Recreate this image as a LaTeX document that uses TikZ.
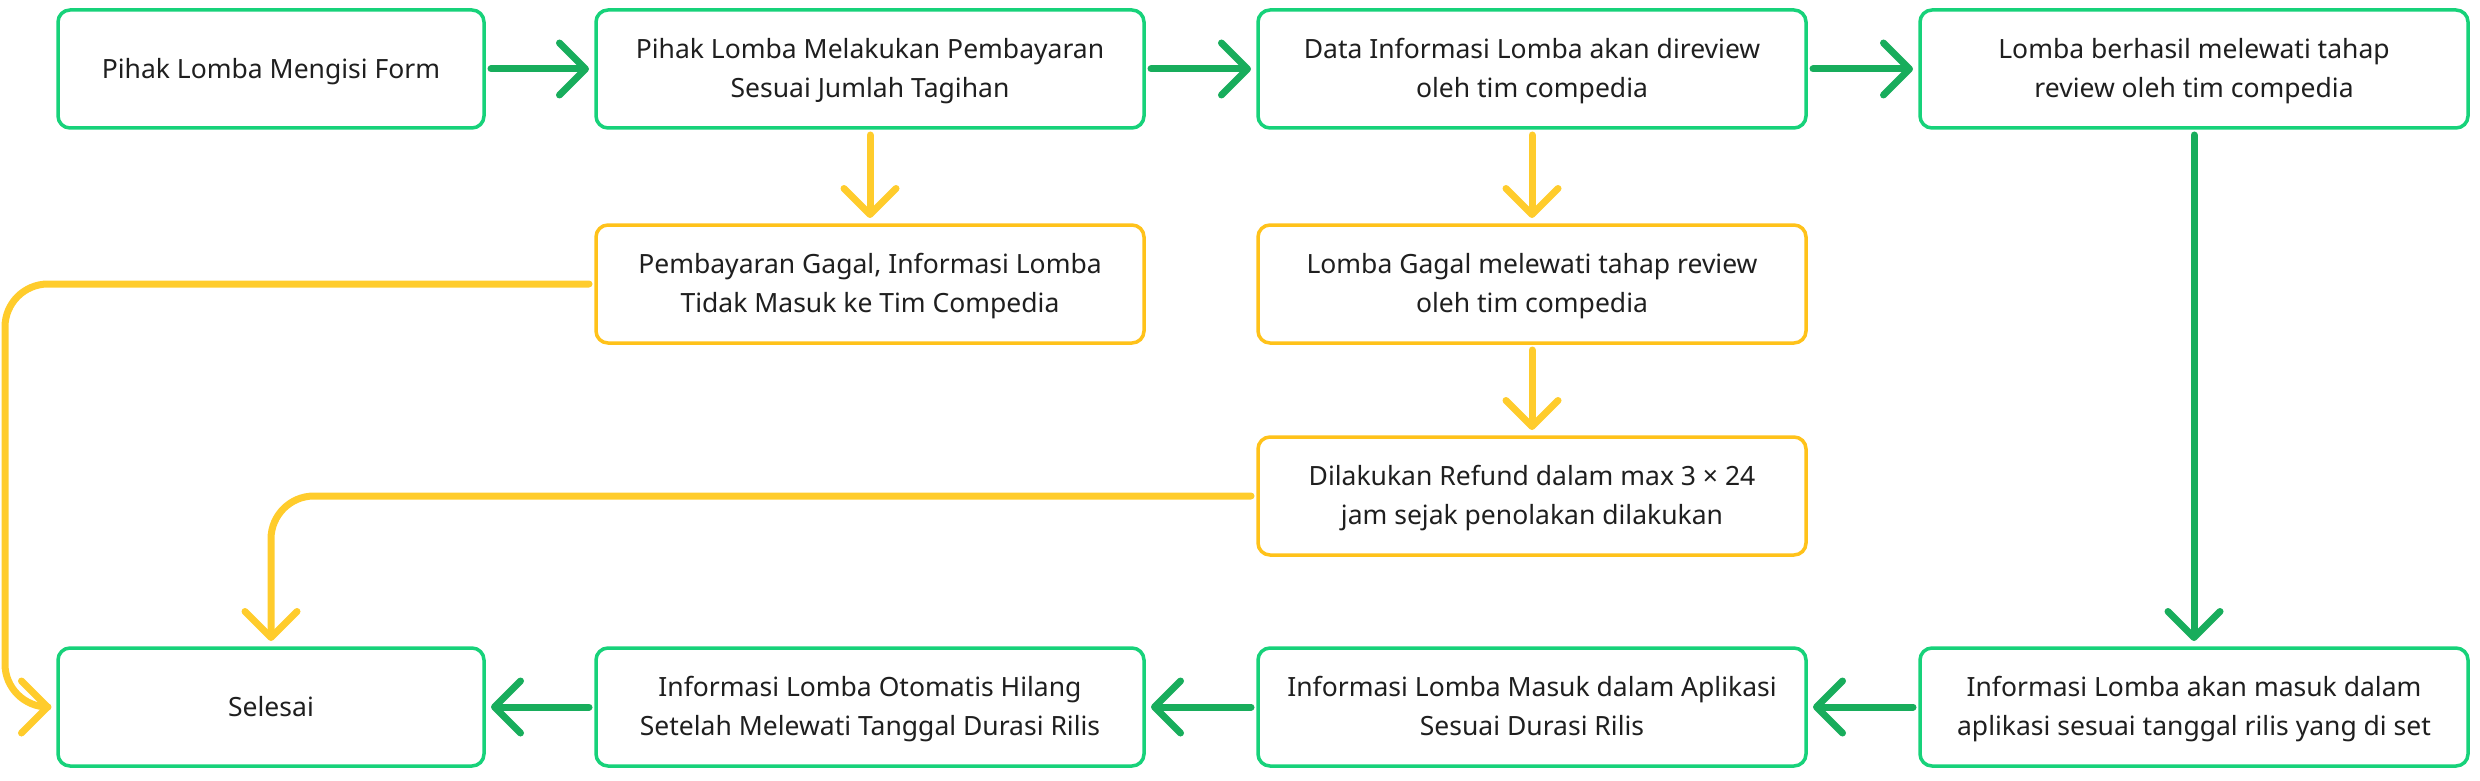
\documentclass[tikz,border=0pt]{standalone}
\usepackage{fontspec}
\setmainfont{Noto Sans}
\usetikzlibrary{arrows.meta}
\definecolor{gborder}{HTML}{17D27A}
\definecolor{yborder}{HTML}{FFC21A}
\definecolor{garr}{HTML}{18AD5C}
\definecolor{yarr}{HTML}{FFCC2C}
\definecolor{txt}{HTML}{1F1F1F}
\tikzset{
  box/.style={rectangle, rounded corners=12pt, line width=3.5pt, fill=white,
    inner sep=0pt, outer sep=0pt, minimum height=118pt, align=center,
    text depth=1.3pt,
    text=txt, font=\fontsize{26.5pt}{39pt}\selectfont},
  gbox/.style={box, draw=gborder},
  ybox/.style={box, draw=yborder},
  conn/.style={line width=7pt, line cap=round, line join=round,
    -{Straight Barb[length=26pt,width=52pt,round]},
    shorten <=7pt, shorten >=7pt},
  garrow/.style={conn, draw=garr},
  yarrow/.style={conn, draw=yarr},
}
\begin{document}
\begin{tikzpicture}[x=1pt,y=-1pt]
\useasboundingbox (0,0) rectangle (2480,781);
% row 1
\node[gbox, minimum width=426pt] (n1) at (271,69) {Pihak Lomba Mengisi Form};
\node[gbox, minimum width=548pt] (n2) at (870,69) {Pihak Lomba Melakukan Pembayaran\\Sesuai Jumlah Tagihan};
\node[gbox, minimum width=548pt] (n3) at (1532,69) {Data Informasi Lomba akan direview\\oleh tim compedia};
\node[gbox, minimum width=548pt] (n4) at (2194,69) {Lomba berhasil melewati tahap\\review oleh tim compedia};
% row 2
\node[ybox, minimum width=548pt] (g1) at (870,284) {Pembayaran Gagal, Informasi Lomba\\Tidak Masuk ke Tim Compedia};
\node[ybox, minimum width=548pt] (g2) at (1532,284) {Lomba Gagal melewati tahap review\\oleh tim compedia};
% row 3
\node[ybox, minimum width=548pt] (rf) at (1532,496) {Dilakukan Refund dalam max 3 × 24\\jam sejak penolakan dilakukan};
% row 4
\node[gbox, minimum width=426pt] (n9) at (271,707) {Selesai};
\node[gbox, minimum width=548pt] (n8) at (870,707) {Informasi Lomba Otomatis Hilang\\Setelah Melewati Tanggal Durasi Rilis};
\node[gbox, minimum width=548pt] (n7) at (1532,707) {Informasi Lomba Masuk dalam Aplikasi\\Sesuai Durasi Rilis};
\node[gbox, minimum width=548pt] (n6) at (2194,707) {Informasi Lomba akan masuk dalam\\aplikasi sesuai tanggal rilis yang di set};
% connectors
\draw[garrow] (n1.east) -- (n2.west);
\draw[garrow] (n2.east) -- (n3.west);
\draw[garrow] (n3.east) -- (n4.west);
\draw[garrow] (n4.south) -- (n6.north);
\draw[garrow] (n6.west) -- (n7.east);
\draw[garrow] (n7.west) -- (n8.east);
\draw[garrow] (n8.west) -- (n9.east);
\draw[yarrow] (n2.south) -- (g1.north);
\draw[yarrow] (n3.south) -- (g2.north);
\draw[yarrow] (g2.south) -- (rf.north);
\coordinate (lc) at (5,707);
\draw[yarrow, rounded corners=43pt] (g1.west) -| (lc) -- (n9.west);
\draw[yarrow, rounded corners=43pt] (rf.west) -| (n9.north);
\end{tikzpicture}
\end{document}
